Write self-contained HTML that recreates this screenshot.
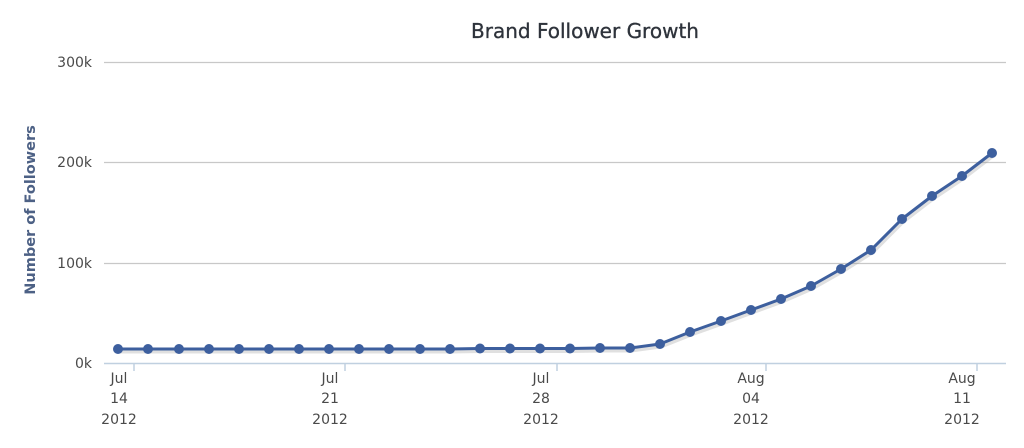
<!DOCTYPE html>
<html><head><meta charset="utf-8"><style>
html,body{margin:0;padding:0;background:#fff;width:1024px;height:448px;overflow:hidden}
svg{display:block}
text{font-family:"DejaVu Sans","Liberation Sans",sans-serif}
</style></head><body>
<svg width="1024" height="448" xmlns="http://www.w3.org/2000/svg">
<text x="585" y="38" text-anchor="middle" font-size="20" fill="#2e333b" stroke="#2e333b" stroke-width="0.3">Brand Follower Growth</text>
<g stroke="#c8c8c8" stroke-width="1.2">
<line x1="104" y1="62.5" x2="1006" y2="62.5"/>
<line x1="104" y1="162.5" x2="1006" y2="162.5"/>
<line x1="104" y1="263.5" x2="1006" y2="263.5"/>
</g>
<line x1="104" y1="363.5" x2="1006" y2="363.5" stroke="#c0d0e0" stroke-width="1.5"/>
<g stroke="#c0d0e0" stroke-width="1.5">
<line x1="134" y1="364" x2="134" y2="371"/>
<line x1="345" y1="364" x2="345" y2="371"/>
<line x1="557" y1="364" x2="557" y2="371"/>
<line x1="766" y1="364" x2="766" y2="371"/>
<line x1="977" y1="364" x2="977" y2="371"/>
</g>
<g font-size="14" fill="#4a4a4a" text-anchor="end">
<text x="92" y="67">300k</text>
<text x="92" y="167">200k</text>
<text x="92" y="268">100k</text>
<text x="92" y="368">0k</text>
</g>
<text transform="translate(35,210) rotate(-90)" text-anchor="middle" font-size="14.5" font-weight="bold" fill="#4d6185">Number of Followers</text>
<g font-size="14" fill="#4a4a4a" text-anchor="middle">
<text x="119" y="383">Jul</text><text x="119" y="403">14</text><text x="119" y="424">2012</text>
<text x="330" y="383">Jul</text><text x="330" y="403">21</text><text x="330" y="424">2012</text>
<text x="541" y="383">Jul</text><text x="541" y="403">28</text><text x="541" y="424">2012</text>
<text x="751" y="383">Aug</text><text x="751" y="403">04</text><text x="751" y="424">2012</text>
<text x="962" y="383">Aug</text><text x="962" y="403">11</text><text x="962" y="424">2012</text>
</g>
<polyline fill="none" stroke="#999" stroke-opacity="0.3" stroke-width="5" transform="translate(1,2)" points="118,349 148,349 179,349 209,349 239,349 269,349 299,349 329,349 359,349 389,349 420,349 450,349 480,348.5 510,348.5 540,348.5 570,348.5 600,348 630,348 660,344 690,332 721,321 751,310 781,299 811,286 841,269 871,250 902,219 932,196 962,176 992,153"/>
<polyline fill="none" stroke="#3d5f9e" stroke-width="3" stroke-linejoin="round" points="118,349 148,349 179,349 209,349 239,349 269,349 299,349 329,349 359,349 389,349 420,349 450,349 480,348.5 510,348.5 540,348.5 570,348.5 600,348 630,348 660,344 690,332 721,321 751,310 781,299 811,286 841,269 871,250 902,219 932,196 962,176 992,153"/>
<g fill="#3d5f9e">
<circle cx="118" cy="349" r="5"/><circle cx="148" cy="349" r="5"/><circle cx="179" cy="349" r="5"/><circle cx="209" cy="349" r="5"/><circle cx="239" cy="349" r="5"/><circle cx="269" cy="349" r="5"/><circle cx="299" cy="349" r="5"/><circle cx="329" cy="349" r="5"/><circle cx="359" cy="349" r="5"/><circle cx="389" cy="349" r="5"/><circle cx="420" cy="349" r="5"/><circle cx="450" cy="349" r="5"/><circle cx="480" cy="348.5" r="5"/><circle cx="510" cy="348.5" r="5"/><circle cx="540" cy="348.5" r="5"/><circle cx="570" cy="348.5" r="5"/><circle cx="600" cy="348" r="5"/><circle cx="630" cy="348" r="5"/><circle cx="660" cy="344" r="5"/><circle cx="690" cy="332" r="5"/><circle cx="721" cy="321" r="5"/><circle cx="751" cy="310" r="5"/><circle cx="781" cy="299" r="5"/><circle cx="811" cy="286" r="5"/><circle cx="841" cy="269" r="5"/><circle cx="871" cy="250" r="5"/><circle cx="902" cy="219" r="5"/><circle cx="932" cy="196" r="5"/><circle cx="962" cy="176" r="5"/><circle cx="992" cy="153" r="5"/>
</g>
</svg>
</body></html>
